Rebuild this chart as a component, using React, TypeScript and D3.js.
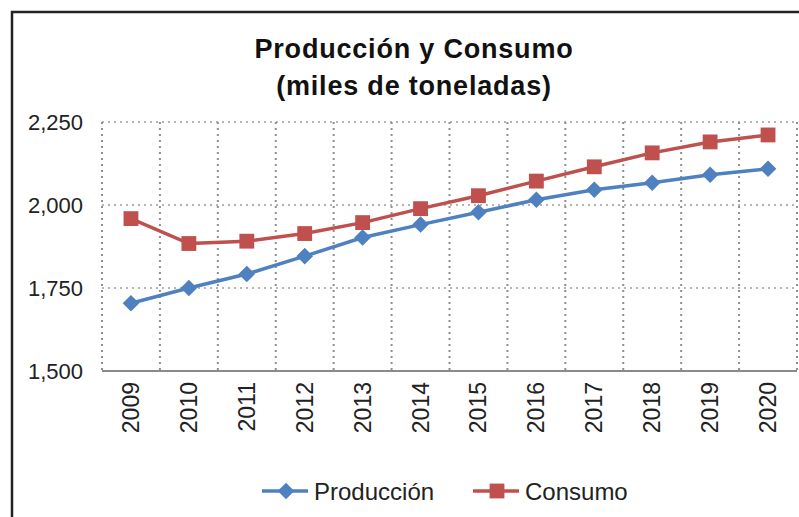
import { useEffect, useRef } from 'react';
import * as d3 from 'd3';

const years = ['2009', '2010', '2011', '2012', '2013', '2014', '2015', '2016', '2017', '2018', '2019', '2020'];
const produccion = [1704, 1750, 1792, 1846, 1902, 1941, 1978, 2016, 2046, 2067, 2091, 2109];
const consumo = [1959, 1884, 1891, 1914, 1947, 1989, 2028, 2072, 2115, 2157, 2190, 2211];
const yTicks = [1500, 1750, 2000, 2250];

const BLUE = '#4f80bf';
const RED = '#c0504d';
const FONT = '"Liberation Sans", Arial, sans-serif';

const App = () => {
  const svgRef = useRef<SVGSVGElement>(null);

  useEffect(() => {
    if (!svgRef.current) return;
    const svg = d3.select(svgRef.current);
    svg.selectAll('*').remove();

    const width = 799;
    const height = 517;
    const plot = { left: 102, right: 797, top: 122, bottom: 371 };

    svg.append('rect').attr('width', width).attr('height', height).attr('fill', '#fff');

    // outer frame
    svg.append('rect')
      .attr('x', 12).attr('y', 12)
      .attr('width', width + 20).attr('height', height + 20)
      .attr('fill', 'none').attr('stroke', '#222').attr('stroke-width', 2.5);

    // title
    const title = svg.append('text')
      .attr('text-anchor', 'middle')
      .attr('font-family', FONT).attr('font-weight', 'bold')
      .attr('font-size', 27).attr('letter-spacing', 0.8).attr('fill', '#111');
    title.append('tspan').attr('x', 414).attr('y', 58).text('Producción y Consumo');
    title.append('tspan').attr('x', 414).attr('y', 95).text('(miles de toneladas)');

    const x = d3.scaleBand().domain(years).range([plot.left, plot.right]);
    const y = d3.scaleLinear().domain([1500, 2250]).range([plot.bottom, plot.top]);

    const g = svg.append('g');

    // horizontal grid
    g.selectAll('.hgrid')
      .data(yTicks.filter(t => t > 1500))
      .enter()
      .append('line')
      .attr('x1', plot.left).attr('x2', plot.right)
      .attr('y1', d => y(d)).attr('y2', d => y(d))
      .attr('stroke', '#b5b5b5').attr('stroke-width', 2)
      .attr('stroke-dasharray', '2,4');

    // vertical grid at band edges
    const edges = years.map(d => x(d) as number).concat([plot.right]);
    g.selectAll('.vgrid')
      .data(edges)
      .enter()
      .append('line')
      .attr('x1', d => d).attr('x2', d => d)
      .attr('y1', plot.top).attr('y2', plot.bottom)
      .attr('stroke', '#8f8f8f').attr('stroke-width', 2)
      .attr('stroke-dasharray', '2,4');

    // bottom axis line
    g.append('line')
      .attr('x1', plot.left).attr('x2', plot.right)
      .attr('y1', plot.bottom).attr('y2', plot.bottom)
      .attr('stroke', '#8a8a8a').attr('stroke-width', 2);

    // y labels
    g.selectAll('.ylab')
      .data(yTicks)
      .enter()
      .append('text')
      .attr('x', 83).attr('y', d => y(d) + 8)
      .attr('text-anchor', 'end')
      .attr('font-family', FONT).attr('font-size', 22)
      .attr('fill', '#222')
      .text(d => d3.format(',')(d));

    // x labels rotated
    g.selectAll('.xlab')
      .data(years)
      .enter()
      .append('text')
      .attr('transform', d => `translate(${(x(d) as number) + x.bandwidth() / 2 + 8},${plot.bottom + 11}) rotate(-90)`)
      .attr('text-anchor', 'end')
      .attr('font-family', FONT).attr('font-size', 23)
      .attr('fill', '#222')
      .text(d => d);

    const cx = (d: string) => (x(d) as number) + x.bandwidth() / 2;

    const line = d3.line<number>()
      .x((_, i) => cx(years[i]))
      .y(d => y(d));

    g.append('path').datum(produccion)
      .attr('d', line).attr('fill', 'none')
      .attr('stroke', BLUE).attr('stroke-width', 3.5);
    g.append('path').datum(consumo)
      .attr('d', line).attr('fill', 'none')
      .attr('stroke', RED).attr('stroke-width', 3.5);

    const diamond = d3.symbol().type(d3.symbolDiamond2).size(175);
    const square = d3.symbol().type(d3.symbolSquare).size(220);

    g.selectAll('.pm')
      .data(produccion)
      .enter()
      .append('path')
      .attr('d', diamond)
      .attr('transform', (d, i) => `translate(${cx(years[i])},${y(d)})`)
      .attr('fill', BLUE);

    g.selectAll('.cm')
      .data(consumo)
      .enter()
      .append('path')
      .attr('d', square)
      .attr('transform', (d, i) => `translate(${cx(years[i])},${y(d)})`)
      .attr('fill', RED);

    // legend
    const legend = svg.append('g').attr('transform', 'translate(0,491)');
    const items = [
      { name: 'Producción', color: BLUE, sym: diamond, x0: 262 },
      { name: 'Consumo', color: RED, sym: square, x0: 473 }
    ];
    items.forEach(it => {
      legend.append('line')
        .attr('x1', it.x0).attr('x2', it.x0 + 46)
        .attr('y1', 0).attr('y2', 0)
        .attr('stroke', it.color).attr('stroke-width', 3.5);
      legend.append('path')
        .attr('d', it.sym)
        .attr('transform', `translate(${it.x0 + 24},0)`)
        .attr('fill', it.color);
      legend.append('text')
        .attr('x', it.x0 + 52).attr('y', 9)
        .attr('font-family', FONT).attr('font-size', 24)
        .attr('fill', '#222')
        .text(it.name);
    });
  }, []);

  return (
    <div style={{ position: 'absolute', left: 0, top: 0 }}>
      <svg ref={svgRef} width={799} height={517} style={{ display: 'block' }} />
    </div>
  );
};

export default App;
